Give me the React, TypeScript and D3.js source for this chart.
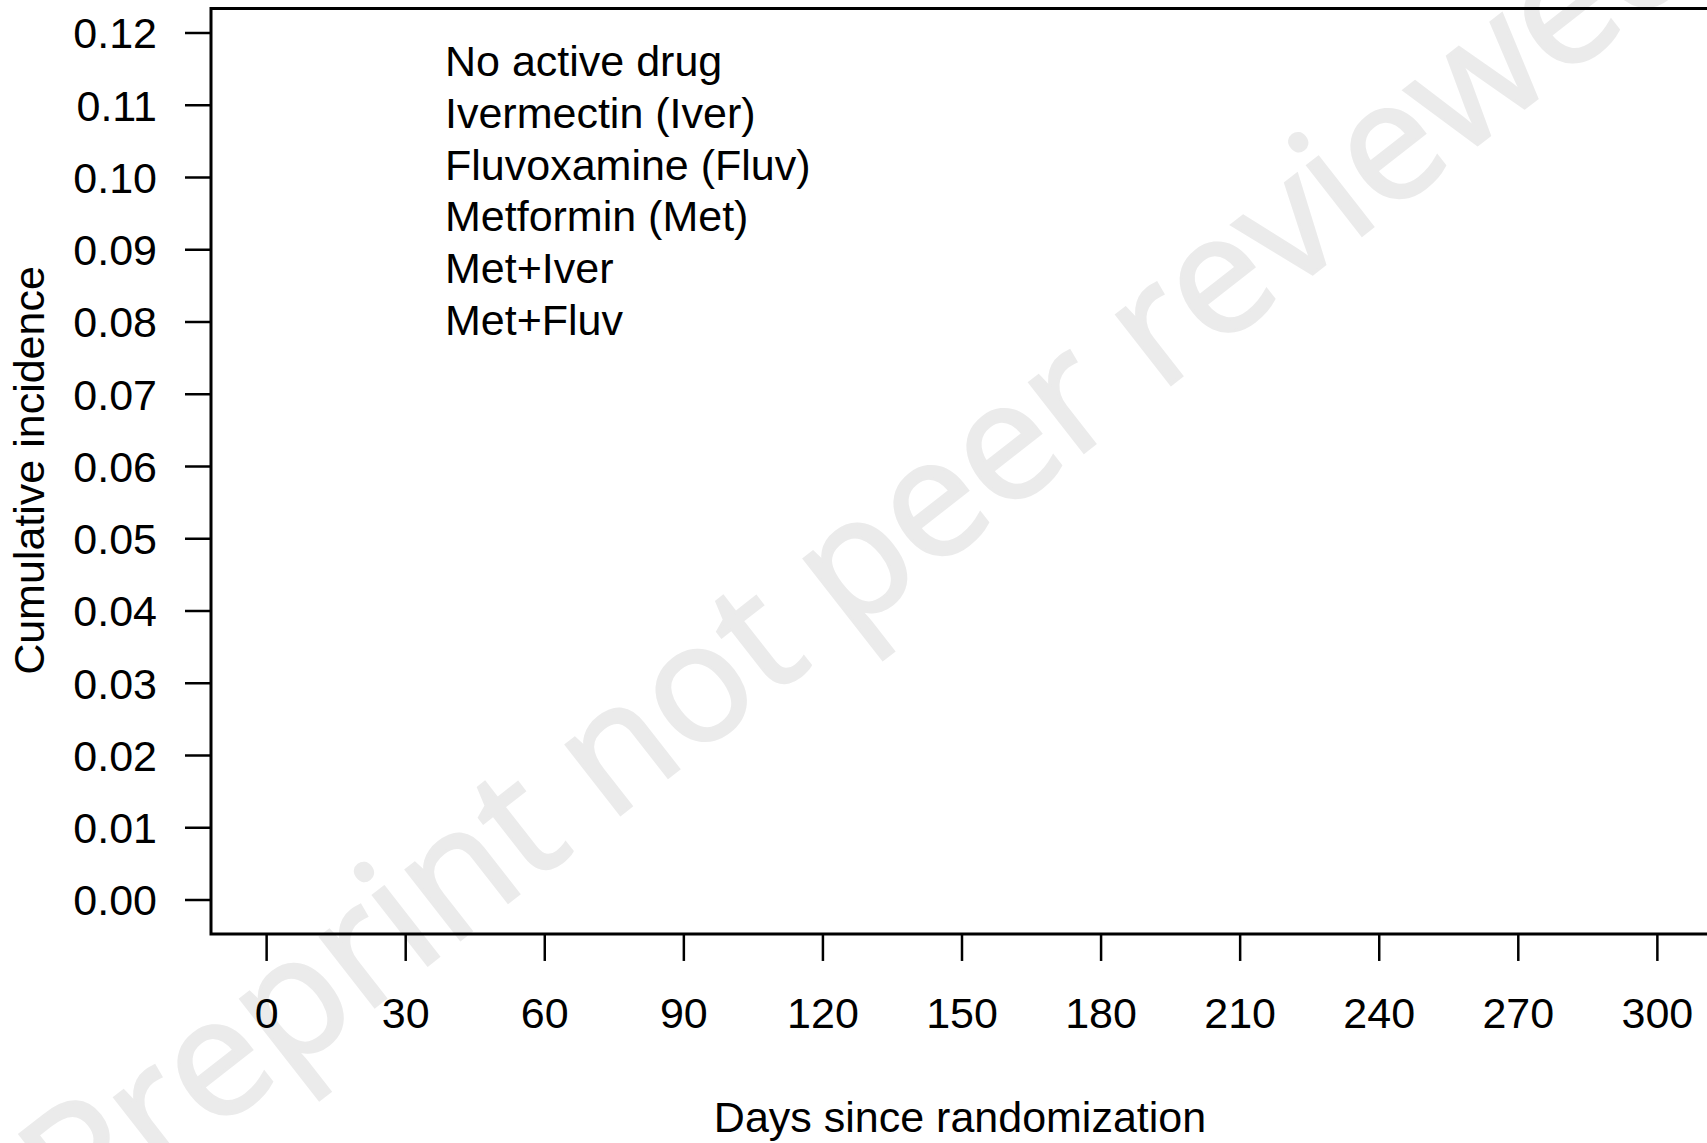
import React from 'react';
import * as d3 from 'd3';

// arms in the legend (no curves are drawn in this figure)
const ARMS = [
  'No active drug',
  'Ivermectin (Iver)',
  'Fluvoxamine (Fluv)',
  'Metformin (Met)',
  'Met+Iver',
  'Met+Fluv',
];

const X_TICKS = [0, 30, 60, 90, 120, 150, 180, 210, 240, 270, 300];
const Y_TICKS = [0, 0.01, 0.02, 0.03, 0.04, 0.05, 0.06, 0.07, 0.08, 0.09, 0.1, 0.11, 0.12];

// plot region limits (R style padding)
const X_LIM = [-12, 312];
const Y_LIM = [-0.0047, 0.1234];

const WIDTH = 1707;
const HEIGHT = 1143;
const FONT = 'Liberation Sans, Arial, Helvetica, sans-serif';
const FS = 43;

export default function App() {
  const x = d3.scaleLinear().domain(X_LIM).range([211, 1713]);
  const y = d3.scaleLinear().domain([0, 0.12]).range([900, 33]);

  const left = x(X_LIM[0]);
  const right = x(X_LIM[1]);
  const top = y(Y_LIM[1]);
  const bottom = y(Y_LIM[0]);

  const box = d3.path();
  box.moveTo(left, top);
  box.lineTo(right, top);
  box.lineTo(right, bottom);
  box.lineTo(left, bottom);
  box.closePath();

  const fmt = d3.format('.2f');

  return (
    <svg
      width={WIDTH}
      height={HEIGHT}
      style={{ position: 'absolute', left: 0, top: 0, display: 'block', background: '#fff' }}
      fontFamily={FONT}
    >
      {/* watermark */}
      <text
        transform={`translate(895, 600) rotate(-38)`}
        textAnchor="middle"
        fontFamily="Open Sans, sans-serif"
        fontSize={165}
        fill="#ebebeb"
        stroke="#ebebeb"
        strokeWidth={3}
      >
        Preprint not peer reviewed
      </text>

      <path d={box.toString()} fill="none" stroke="#000" strokeWidth={3} />

      {/* y axis */}
      <g>
        {Y_TICKS.map(t => (
          <g key={'y' + t}>
            <line x1={left - 26} x2={left} y1={y(t)} y2={y(t)} stroke="#000" strokeWidth={2.5} />
            <text x={157} y={y(t)} dy="0.36em" textAnchor="end" fontSize={FS} fill="#000">
              {fmt(t)}
            </text>
          </g>
        ))}
        <text
          transform={`translate(44, ${(y(0) + y(0.12)) / 2 + 4}) rotate(-90)`}
          textAnchor="middle"
          fontSize={FS}
          fill="#000"
        >
          Cumulative incidence
        </text>
      </g>

      {/* x axis */}
      <g>
        {X_TICKS.map(t => (
          <g key={'x' + t}>
            <line x1={x(t)} x2={x(t)} y1={bottom} y2={bottom + 27} stroke="#000" strokeWidth={2.5} />
            <text x={x(t)} y={1028} textAnchor="middle" fontSize={FS} fill="#000">
              {t}
            </text>
          </g>
        ))}
        <text x={960} y={1132} textAnchor="middle" fontSize={FS} fill="#000">
          Days since randomization
        </text>
      </g>

      {/* legend */}
      <g>
        {ARMS.map((d, i) => (
          <text key={'leg' + i} x={445} y={76 + i * 51.8} fontSize={FS} fill="#000">
            {d}
          </text>
        ))}
      </g>
    </svg>
  );
}
